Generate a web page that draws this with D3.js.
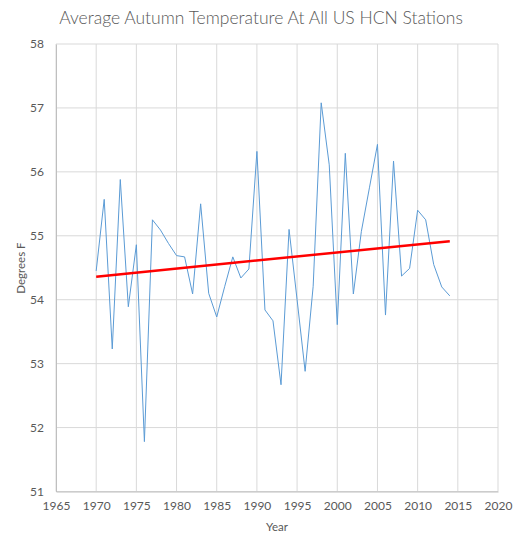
<!DOCTYPE html>
<html lang="en">
<head>
  <meta charset="UTF-8">
  <title>Average Autumn Temperature</title>
  <style>
    body { margin: 0; background: #fff; }
    text { font-family: Lato, "Open Sans", sans-serif; fill: #595959; }
  </style>
</head>
<body>
  <div id="chart"></div>
  <script src="https://d3js.org/d3.v7.min.js"></script>
  <script>
    const years = d3.range(1970, 2015)
    const temps = [
      54.45, 55.57, 53.23, 55.88, 53.89, 54.86, 51.78, 55.25, 55.09, 54.88,
      54.69, 54.67, 54.09, 55.50, 54.10, 53.73, 54.21, 54.67, 54.34, 54.48,
      56.32, 53.84, 53.67, 52.67, 55.10, 54.00, 52.88, 54.21, 57.08, 56.11,
      53.61, 56.29, 54.09, 55.07, 55.75, 56.43, 53.76, 56.17, 54.37, 54.49,
      55.40, 55.25, 54.55, 54.20, 54.06
    ]
    const xTicks = [1965, 1970, 1975, 1980, 1985, 1990, 1995, 2000, 2005, 2010, 2015, 2020]
    const yTicks = [51, 52, 53, 54, 55, 56, 57, 58]

    const width = 520
    const height = 543
    const margin = { top: 44, right: 22, bottom: 51.5, left: 56 }

    const svg = d3.select('#chart').append('svg')
      .attr('width', width)
      .attr('height', height)

    const x = d3.scaleLinear().domain([1965, 2020]).range([margin.left, width - margin.right])
    const y = d3.scaleLinear().domain([51, 58]).range([height - margin.bottom, margin.top])

    // grid
    svg.append('g')
      .selectAll('line.h')
      .data(yTicks)
      .join('line')
      .attr('x1', margin.left).attr('x2', width - margin.right)
      .attr('y1', d => y(d)).attr('y2', d => y(d))
      .attr('stroke', '#d9d9d9')
    svg.append('g')
      .selectAll('line.v')
      .data(xTicks)
      .join('line')
      .attr('x1', d => x(d)).attr('x2', d => x(d))
      .attr('y1', margin.top).attr('y2', height - margin.bottom)
      .attr('stroke', '#d9d9d9')

    // axes
    const xAxis = svg.append('g')
      .attr('transform', `translate(0,${height - margin.bottom})`)
      .call(d3.axisBottom(x).tickValues(xTicks).tickFormat(d3.format('d')).tickSize(0).tickPadding(10))
    const yAxis = svg.append('g')
      .attr('transform', `translate(${margin.left},0)`)
      .call(d3.axisLeft(y).tickValues(yTicks).tickFormat(d3.format('d')).tickSize(0).tickPadding(12))
    xAxis.select('.domain').attr('stroke', '#bfbfbf')
    yAxis.select('.domain').attr('stroke', '#bfbfbf')
    svg.selectAll('.tick text').attr('font-size', 12).attr('font-family', 'Lato, sans-serif').attr('fill', '#595959')

    // data line
    const line = d3.line().x((d, i) => x(years[i])).y(d => y(d))
    svg.append('path')
      .datum(temps)
      .attr('d', line)
      .attr('fill', 'none')
      .attr('stroke', '#5b9bd5')
      .attr('stroke-width', 1)

    // linear trend
    const mx = d3.mean(years)
    const my = d3.mean(temps)
    const slope = d3.sum(years, (v, i) => (v - mx) * (temps[i] - my)) / d3.sum(years, v => (v - mx) ** 2)
    const trend = [years[0], years[years.length - 1]].map(v => [v, my + slope * (v - mx)])
    svg.append('path')
      .datum(trend)
      .attr('d', d3.line().x(d => x(d[0])).y(d => y(d[1])))
      .attr('stroke', '#ff0000')
      .attr('stroke-width', 2.5)

    // titles
    svg.append('text')
      .attr('x', 261).attr('y', 24)
      .attr('text-anchor', 'middle')
      .attr('font-size', 17.5)
      .attr('font-weight', 300)
      .text('Average Autumn Temperature At All US HCN Stations')
    svg.append('text')
      .attr('x', 277).attr('y', 531)
      .attr('text-anchor', 'middle')
      .attr('font-size', 11.5)
      .text('Year')
    svg.append('text')
      .attr('transform', 'translate(25,268) rotate(-90)')
      .attr('text-anchor', 'middle')
      .attr('font-size', 11.5)
      .text('Degrees F')
  </script>
</body>
</html>
